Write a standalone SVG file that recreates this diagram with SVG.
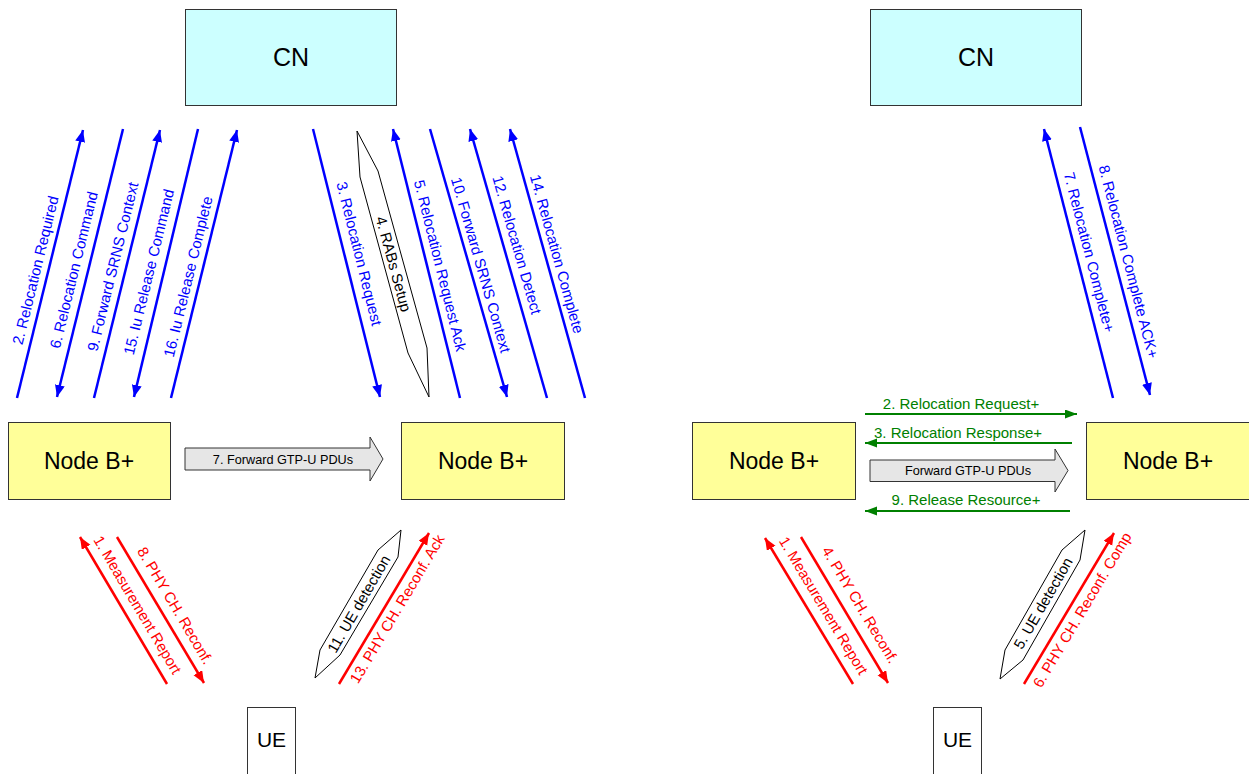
<svg xmlns="http://www.w3.org/2000/svg" width="1249" height="774" viewBox="0 0 1249 774">
<style>
.box{stroke:#333;stroke-width:1}
.cn{fill:#CCFFFF}
.nb{fill:#FFFF99}
.ue{fill:#fff}
.big{font-family:"Liberation Sans",Arial,sans-serif;fill:#000;text-anchor:middle}
.lbl{font-family:"Liberation Sans",Arial,sans-serif;font-size:15px;text-anchor:middle}
.bl{stroke:#0000FF;stroke-width:2.5;fill:none}
.rd{stroke:#FF0000;stroke-width:2.5;fill:none}
.gr{stroke:#008000;stroke-width:2;fill:none}
.tb{fill:#0000FF}
.tr{fill:#FF0000}
.tg{fill:#008000}
.tk{fill:#000}
.shape{fill:#fff;stroke:#000;stroke-width:1}
.gtp{fill:#E6E6E6;stroke:#333;stroke-width:1}
.small{font-family:"Liberation Sans",Arial,sans-serif;font-size:12.7px;fill:#000;text-anchor:middle}
</style>
<defs>
<marker id="hb" markerUnits="userSpaceOnUse" markerWidth="14" markerHeight="12" refX="12" refY="5" orient="auto"><path d="M0,0 L12,5 L0,10 z" fill="#0000FF"/></marker>
<marker id="hr" markerUnits="userSpaceOnUse" markerWidth="14" markerHeight="12" refX="12" refY="5" orient="auto"><path d="M0,0 L12,5 L0,10 z" fill="#FF0000"/></marker>
<marker id="hg" markerUnits="userSpaceOnUse" markerWidth="14" markerHeight="12" refX="12" refY="4.5" orient="auto"><path d="M0,0 L12,4.5 L0,9 z" fill="#008000"/></marker>
</defs>

<g id="cn-left"><rect class="box cn" x="185.5" y="9.5" width="211" height="96"/><text class="big" x="291" y="66" font-size="25">CN</text></g>
<g id="cn-right"><rect class="box cn" x="870.5" y="9.5" width="211" height="96"/><text class="big" x="976" y="66" font-size="25">CN</text></g>
<g id="nodeb-1"><rect class="box nb" x="8.5" y="422.5" width="162" height="77"/><text class="big" x="89" y="468.5" font-size="23">Node B+</text></g>
<g id="nodeb-2"><rect class="box nb" x="401.5" y="422.5" width="163" height="77"/><text class="big" x="483" y="468.5" font-size="23">Node B+</text></g>
<g id="nodeb-3"><rect class="box nb" x="692.5" y="422.5" width="163" height="77"/><text class="big" x="774" y="468.5" font-size="23">Node B+</text></g>
<g id="nodeb-4"><rect class="box nb" x="1086.5" y="422.5" width="163" height="77"/><text class="big" x="1168" y="468.5" font-size="23">Node B+</text></g>
<g id="ue-left"><rect class="box ue" x="247.5" y="707.5" width="48" height="80"/><text class="big" x="271.5" y="747" font-size="21">UE</text></g>
<g id="ue-right"><rect class="box ue" x="933.5" y="707.5" width="48" height="80"/><text class="big" x="957.5" y="747" font-size="21">UE</text></g>

<g id="rabs-setup"><polygon class="shape" points="357,131 378,171 427,348 429,397 408,353 360,177"/><text class="lbl tk" transform="translate(393.3,264) rotate(74.7)" y="5">4. RABs Setup</text></g>
<g id="ue-detection-left"><polygon class="shape" points="401,530 398,557 340,655 315,678 320,650 378,550"/><text class="lbl tk" transform="translate(359,604) rotate(-59.8)" y="5">11. UE detection</text></g>
<g id="ue-detection-right"><polygon class="shape" points="1085,530 1080,560 1023,660 1000,679 1005,650 1062,550"/><text class="lbl tk" transform="translate(1043.3,603.3) rotate(-60)" y="5">5. UE detection</text></g>
<g id="gtp-left"><path class="gtp" d="M185,448 H370 V437 L383,459 L370,481 V470 H185 Z"/><text class="small" x="283" y="463.5">7. Forward GTP-U PDUs</text></g>
<g id="gtp-right"><path class="gtp" d="M870,460 H1055 V449 L1068,470.5 L1055,492 V481.5 H870 Z"/><text class="small" x="968" y="475">Forward GTP-U PDUs</text></g>

<g id="connectors">
<line class="bl" x1="17" y1="398" x2="83" y2="130" marker-end="url(#hb)"/>
<line class="bl" x1="123" y1="129" x2="57" y2="397" marker-end="url(#hb)"/>
<line class="bl" x1="94" y1="398" x2="160" y2="130" marker-end="url(#hb)"/>
<line class="bl" x1="198" y1="129" x2="134" y2="397" marker-end="url(#hb)"/>
<line class="bl" x1="171" y1="398" x2="237" y2="130" marker-end="url(#hb)"/>
<line class="bl" x1="313" y1="129" x2="380" y2="397" marker-end="url(#hb)"/>
<line class="bl" x1="460" y1="398" x2="393" y2="129" marker-end="url(#hb)"/>
<line class="bl" x1="430" y1="129" x2="507" y2="397" marker-end="url(#hb)"/>
<line class="bl" x1="547" y1="398" x2="470" y2="129" marker-end="url(#hb)"/>
<line class="bl" x1="585" y1="398" x2="510" y2="129" marker-end="url(#hb)"/>
<line class="bl" x1="1113" y1="398" x2="1044" y2="129" marker-end="url(#hb)"/>
<line class="bl" x1="1080" y1="127" x2="1150" y2="395" marker-end="url(#hb)"/>
<line class="rd" x1="167" y1="684" x2="80" y2="537" marker-end="url(#hr)"/>
<line class="rd" x1="117" y1="537" x2="204" y2="683" marker-end="url(#hr)"/>
<line class="rd" x1="339" y1="684" x2="429" y2="533" marker-end="url(#hr)"/>
<line class="rd" x1="853" y1="684" x2="765" y2="538" marker-end="url(#hr)"/>
<line class="rd" x1="801" y1="537" x2="888" y2="683" marker-end="url(#hr)"/>
<line class="rd" x1="1024" y1="684" x2="1114" y2="533" marker-end="url(#hr)"/>
<line class="gr" x1="865" y1="414" x2="1077" y2="414" marker-end="url(#hg)"/>
<line class="gr" x1="1072" y1="443" x2="865" y2="443" marker-end="url(#hg)"/>
<line class="gr" x1="1070" y1="511" x2="865" y2="511" marker-end="url(#hg)"/>

<text class="lbl tb" transform="translate(35.7,270.3) rotate(-76.2)" y="5">2. Relocation Required</text>
<text class="lbl tb" transform="translate(74,270) rotate(-76.2)" y="5">6. Relocation Command</text>
<text class="lbl tb" transform="translate(113,266.7) rotate(-76.2)" y="5">9. Forward SRNS Context</text>
<text class="lbl tb" transform="translate(149,272) rotate(-76.2)" y="5">15. Iu Release Command</text>
<text class="lbl tb" transform="translate(188.3,276.7) rotate(-76.2)" y="5">16. Iu Release Complete</text>
<text class="lbl tb" transform="translate(359,253.7) rotate(76)" y="5">3. Relocation Request</text>
<text class="lbl tb" transform="translate(440,265.7) rotate(76)" y="5">5. Relocation Request Ack</text>
<text class="lbl tb" transform="translate(480.7,265) rotate(74)" y="5">10. Forward SRNS Context</text>
<text class="lbl tb" transform="translate(516.7,245) rotate(74)" y="5">12. Relocation Detect</text>
<text class="lbl tb" transform="translate(556.7,254) rotate(74.4)" y="5">14. Relocation Complete</text>
<text class="lbl tb" transform="translate(1089,252.3) rotate(75.6)" y="5">7. Relocation Complete+</text>
<text class="lbl tb" transform="translate(1128.3,261.7) rotate(75.4)" y="5">8. Relocation Complete ACK+</text>
<text class="lbl tr" transform="translate(137.3,605) rotate(59.4)" y="5">1. Measurement Report</text>
<text class="lbl tr" transform="translate(175,605.7) rotate(59.4)" y="5">8. PHY CH. Reconf.</text>
<text class="lbl tr" transform="translate(397.3,609) rotate(-59.2)" y="5">13. PHY CH. Reconf. Ack</text>
<text class="lbl tr" transform="translate(823.3,605.7) rotate(59)" y="5">1. Measurement Report</text>
<text class="lbl tr" transform="translate(860,605) rotate(59)" y="5">4. PHY CH. Reconf.</text>
<text class="lbl tr" transform="translate(1082.3,610) rotate(-59.2)" y="5">6. PHY CH. Reconf. Comp</text>
<text class="lbl tg" x="961" y="409">2. Relocation Request+</text>
<text class="lbl tg" x="958" y="437.5">3. Relocation Response+</text>
<text class="lbl tg" x="966" y="505">9. Release Resource+</text>
</g>
</svg>
